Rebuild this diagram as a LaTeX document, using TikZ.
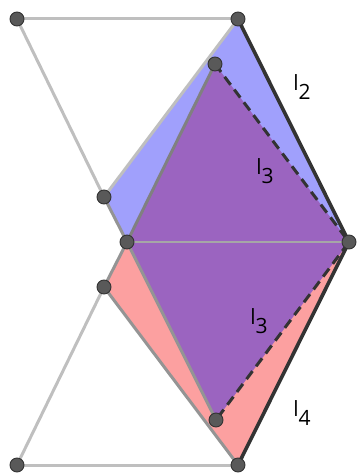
\documentclass[tikz,border=0pt]{standalone}
\usepackage{fontspec}
\setmainfont{Open Sans}
\begin{document}
\begin{tikzpicture}[x=1pt,y=-1pt,
  lightedge/.style={draw=black!25,line width=3pt},
  midedge/.style={draw=black!42,line width=3pt},
  darkedge/.style={draw=black!80,line width=3.6pt},
  dashedge/.style={draw=black!80,line width=3pt,dash pattern=on 10pt off 6pt},
  pt/.style={circle,fill=black!65,draw=black!80,line width=0.9pt,minimum size=14pt,inner sep=0pt},
  lab/.style={font=\fontsize{21}{21}\selectfont,inner sep=0pt}]
\useasboundingbox (0,0) rectangle (357,473);
\coordinate (A) at (17,19);
\coordinate (B) at (238,19);
\coordinate (C) at (215,64);
\coordinate (D) at (104,197);
\coordinate (E) at (127,242);
\coordinate (F) at (349,242);
\coordinate (G) at (104,287);
\coordinate (H) at (216,420);
\coordinate (I) at (238,465);
\coordinate (J) at (17,465);
% fills
\fill[fill={rgb,255:red,160;green,160;blue,252}] (B) -- (D) -- (E) -- (F) -- cycle;
\fill[fill={rgb,255:red,252;green,160;blue,160}] (E) -- (G) -- (I) -- (F) -- cycle;
\fill[fill={rgb,255:red,155;green,100;blue,192}] (C) -- (E) -- (H) -- (F) -- cycle;
% edges
\draw[lightedge] (A) -- (B);
\draw[lightedge] (A) -- (D);
\draw[lightedge] (J) -- (I);
\draw[lightedge] (J) -- (G);
\draw[lightedge] (B) -- (D);
\draw[midedge] (D) -- (E) -- (G);
\draw[midedge] (G) -- (I);
\draw[midedge] (E) -- (H);
\draw[draw=black!35,line width=2.4pt] (E) -- (F);
\draw[draw=black!50,line width=3pt] (C) -- (E);
\draw[darkedge] (B) -- (F) -- (I);
\draw[dashedge] (C) -- (F) -- (H);
% points
\foreach \p in {A,B,C,D,E,F,G,H,I,J} \node[pt] (n\p) at (\p) {};
% labels
\node[lab] (l2) at (302,87) {l\raisebox{-0.4em}{2}};
\node[lab] (l3a) at (265,171) {l\raisebox{-0.4em}{3}};
\node[lab] (l3b) at (259,321) {l\raisebox{-0.4em}{3}};
\node[lab] (l4) at (302,413) {l\raisebox{-0.4em}{4}};
\end{tikzpicture}
\end{document}
